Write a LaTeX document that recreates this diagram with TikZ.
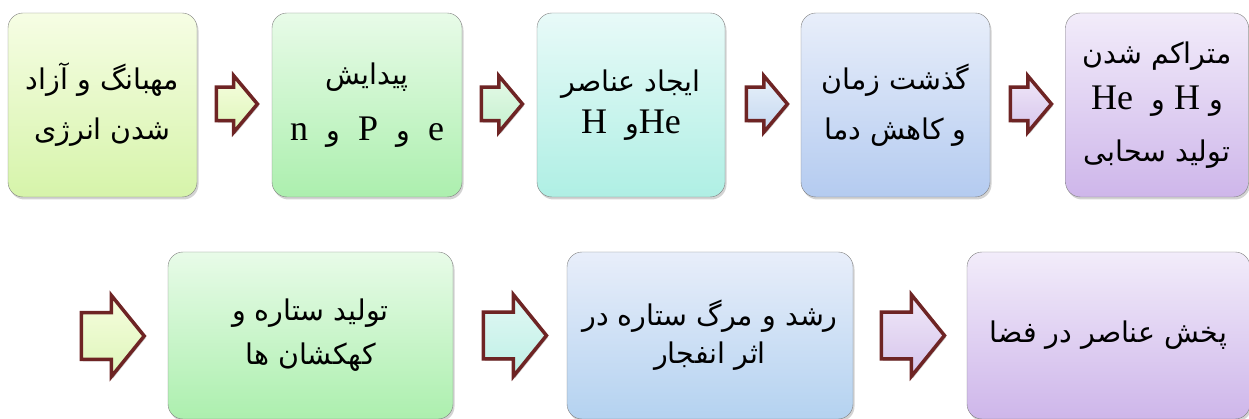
\documentclass[tikz,border=0pt]{standalone}
\usepackage{fontspec}
\newfontfamily\farsi[Script=Arabic]{DejaVu Sans}
\newfontfamily\latin{Liberation Serif}
\TeXXeTstate=1
\usetikzlibrary{shapes.arrows,shadows,calc}
\definecolor{arrowred}{RGB}{110,36,36}
\newcommand{\fa}[1]{\beginR #1\endR}
\newcommand{\la}[1]{{\latin\fontsize{36}{36}\selectfont #1}}
\tikzset{
  box/.style={draw=black!50, rounded corners=15pt, inner sep=0pt, align=center,
    font=\farsi\fontsize{28.5}{50}\selectfont,
    drop shadow={shadow xshift=1.5pt, shadow yshift=-2.5pt, opacity=0.35}},
  flow/.style={single arrow, anchor=tail, draw=arrowred, line width=3.5pt, inner xsep=0pt, inner ysep=15pt,
    minimum height=41pt, single arrow head extend=11.5pt, single arrow tip angle=100,
    drop shadow={shadow xshift=1.5pt, shadow yshift=-2pt, opacity=0.4}},
  bigflow/.style={flow, inner ysep=21.5pt, minimum height=63pt, single arrow head extend=17.5pt,
    single arrow tip angle=102}
}
\begin{document}
\begin{tikzpicture}[x=1pt,y=-1pt]
\useasboundingbox (0,0) rectangle (1249,419);
% first row
\node [box, minimum width=189pt, minimum height=184pt, top color={rgb,255:red,246;green,253;blue,228}, bottom color={rgb,255:red,214;green,244;blue,170}] (b1) at (102.5,105)
  {\fa{مهبانگ و آزاد}\\\fa{شدن انرژی}};
\node [box, minimum width=190pt, minimum height=184pt, top color={rgb,255:red,232;green,251;blue,232}, bottom color={rgb,255:red,172;green,239;blue,174}] (b2) at (367,105)
  {\fa{پیدایش}\\[6pt]\fa{\la{e}~~و~~\la{P}~~و~~\la{n}}};
\node [box, minimum width=188pt, minimum height=184pt, top color={rgb,255:red,232;green,250;blue,248}, bottom color={rgb,255:red,175;green,239;blue,228}] (b3) at (631,105)
  {\fa{ایجاد عناصر}\\[-8pt]\fa{\la{He}و~~\la{H}}};
\node [box, minimum width=189pt, minimum height=184pt, top color={rgb,255:red,232;green,238;blue,250}, bottom color={rgb,255:red,180;green,203;blue,240}] (b4) at (895.5,105)
  {\fa{گذشت زمان}\\\fa{و کاهش دما}};
\node [box, minimum width=183pt, minimum height=184pt, top color={rgb,255:red,242;green,236;blue,250}, bottom color={rgb,255:red,206;green,182;blue,234}] (b5) at (1157,105)
  {\fa{متراکم شدن}\\[-4pt]\fa{و \la{H} و~~\la{He}}\\[2pt]\fa{تولید سحابی}};
% second row
\node [box, minimum width=285pt, minimum height=167pt, top color={rgb,255:red,232;green,251;blue,232}, bottom color={rgb,255:red,172;green,239;blue,174}] (b6) at (310.5,335.5)
  {\fa{تولید ستاره و}\\[-6pt]\fa{کهکشان ها}};
\node [box, minimum width=286pt, minimum height=167pt, top color={rgb,255:red,232;green,238;blue,250}, bottom color={rgb,255:red,180;green,210;blue,240}] (b7) at (710,335.5)
  {\fa{رشد و مرگ ستاره در}\\[-12pt]\fa{اثر انفجار}};
\node [box, minimum width=283pt, minimum height=167pt, top color={rgb,255:red,242;green,236;blue,250}, bottom color={rgb,255:red,206;green,182;blue,234}] (b8) at (1108.5,335.5)
  {\fa{پخش عناصر در فضا}};
% arrows
\node [flow, top color={rgb,255:red,246;green,253;blue,222}, bottom color={rgb,255:red,222;green,246;blue,186}] (a1) at ([xshift=17.5pt,yshift=1pt]b1.east) {};
\node [flow, top color={rgb,255:red,230;green,250;blue,232}, bottom color={rgb,255:red,196;green,240;blue,206}] (a2) at ([xshift=17.5pt,yshift=1pt]b2.east) {};
\node [flow, top color={rgb,255:red,232;green,242;blue,250}, bottom color={rgb,255:red,196;green,214;blue,240}] (a3) at ([xshift=19.5pt,yshift=1pt]b3.east) {};
\node [flow, top color={rgb,255:red,240;green,232;blue,248}, bottom color={rgb,255:red,214;green,196;blue,236}] (a4) at ([xshift=18.5pt,yshift=1pt]b4.east) {};
\coordinate (in6) at (79.5,336);
\node [bigflow, top color={rgb,255:red,246;green,253;blue,222}, bottom color={rgb,255:red,222;green,246;blue,186}] (a5) at (in6) {};
\node [bigflow, top color={rgb,255:red,226;green,248;blue,244}, bottom color={rgb,255:red,190;green,240;blue,230}] (a6) at ([xshift=28.5pt]b6.east) {};
\node [bigflow, top color={rgb,255:red,240;green,232;blue,248}, bottom color={rgb,255:red,214;green,196;blue,236}] (a7) at ([xshift=26.5pt]b7.east) {};
\end{tikzpicture}
\end{document}
